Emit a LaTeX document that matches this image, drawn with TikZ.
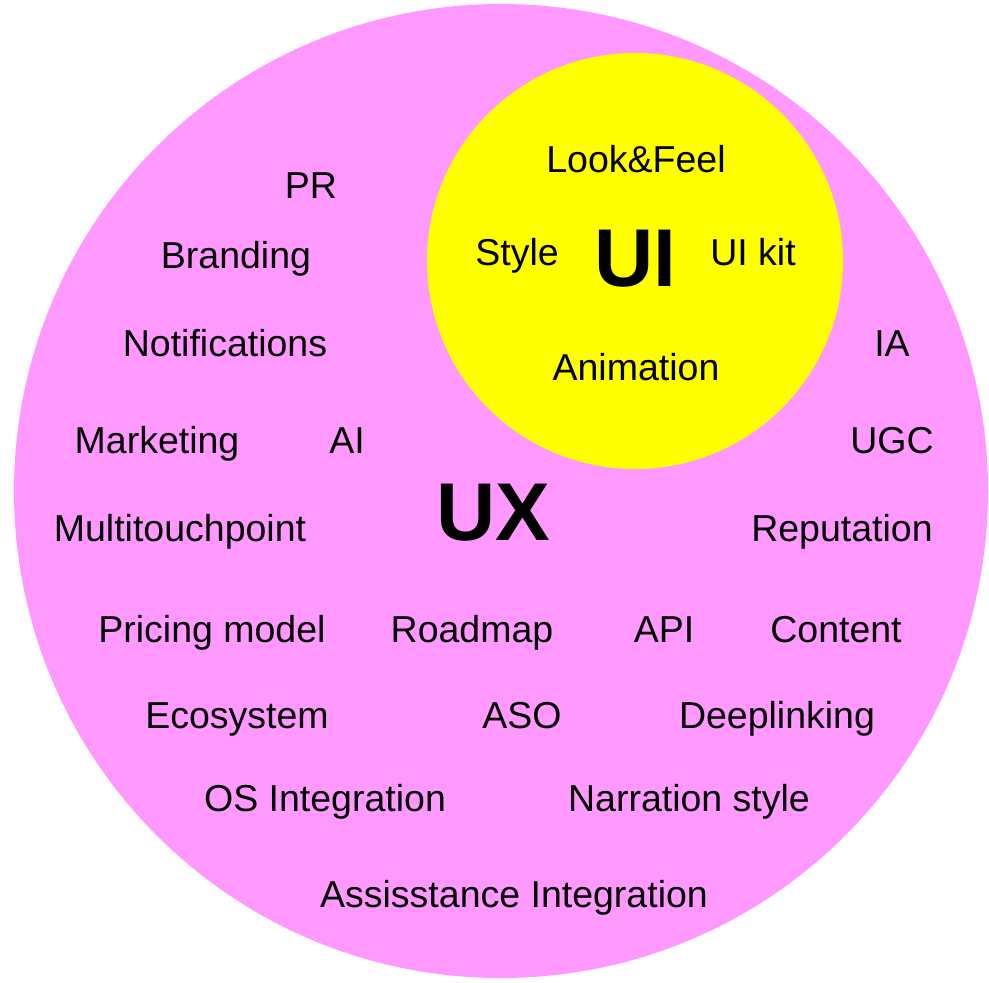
\documentclass[tikz,border=0pt]{standalone}
\usepackage{fontspec}
\setmainfont{Liberation Sans}
\definecolor{uxpink}{HTML}{FF99FF}
\definecolor{uiyellow}{HTML}{FFFF00}
\begin{document}
\begin{tikzpicture}[x=1pt,y=-1pt,
  lbl/.style={anchor=base,inner sep=0pt,font=\fontsize{37.5}{40}\selectfont},
  big/.style={anchor=base,inner sep=0pt,font=\fontsize{82}{84}\selectfont\bfseries}]
\useasboundingbox (0,0) rectangle (989,983);
\fill[uxpink] (501,491) circle[radius=487];
\fill[uiyellow] (635,261) circle[radius=208];
\node[big] (ux) at (493,540) {UX};
\node[big] (ui) at (635,286) {UI};
\node[lbl] (lf) at (636,172) {Look\&Feel};
\node[lbl] (style) at (517,265) {Style};
\node[lbl] (uikit) at (753,265) {UI kit};
\node[lbl] (anim) at (636,380) {Animation};
\node[lbl] (pr) at (311,198) {PR};
\node[lbl] (brand) at (236,268) {Branding};
\node[lbl] (notif) at (225,356) {Notifications};
\node[lbl] (ia) at (892,356) {IA};
\node[lbl] (mkt) at (157,453) {Marketing};
\node[lbl] (ai) at (347,453) {AI};
\node[lbl] (ugc) at (892,453) {UGC};
\node[lbl] (multi) at (180,541) {Multitouchpoint};
\node[lbl] (rep) at (842,541) {Reputation};
\node[lbl] (price) at (212,642) {Pricing model};
\node[lbl] (road) at (472,642) {Roadmap};
\node[lbl] (api) at (664,642) {API};
\node[lbl] (cont) at (836,642) {Content};
\node[lbl] (eco) at (237,728) {Ecosystem};
\node[lbl] (aso) at (522,728) {ASO};
\node[lbl] (deep) at (777,728) {Deeplinking};
\node[lbl] (os) at (325,811) {OS Integration};
\node[lbl] (narr) at (689,811) {Narration style};
\node[lbl] (assist) at (514,907) {Assisstance Integration};
\end{tikzpicture}
\end{document}
